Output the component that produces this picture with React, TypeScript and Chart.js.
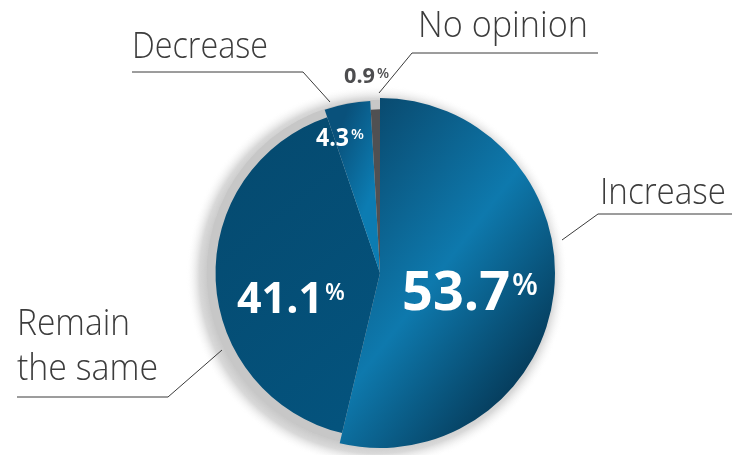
import React, { useEffect, useRef } from "react";
import { Chart, registerables } from "chart.js";

Chart.register(...registerables);

const categories = ["Increase", "Remain the same", "Decrease", "No opinion"];
const values = [53.7, 41.1, 4.3, 0.9];
const valueLabels = ["53.7", "41.1", "4.3", "0.9"];
const categoryLines = [["Increase"], ["Remain", "the same"], ["Decrease"], ["No opinion"]];

// slice radius factors (relative to the largest slice)
const radiusFactors = [1, 0.94, 0.985, 0.935];

// label layout relative to pie center
const leaderLines: number[][][] = [
  [[182, -33], [218, -59], [352, -59]],
  [[-158, 77], [-212, 124], [-363, 124]],
  [[-50, -171], [-77, -201], [-248, -201]],
  [[-1, -180], [32, -220], [218, -220]],
];
const catTextPos: { x: number; y: number; w: number }[][] = [
  [{ x: 220, y: -69, w: 126 }],
  [{ x: -363, y: 62, w: 113 }, { x: -363, y: 107, w: 141 }],
  [{ x: -248, y: -215, w: 136 }],
  [{ x: 38, y: -236, w: 170 }],
];
const pctStyle = [
  { x: 22, y: 37, size: 54, w: 113, pSize: 30, pRise: 15, color: "#ffffff" },
  { x: -143, y: 40, size: 43, w: 95, pSize: 23, pRise: 13, color: "#ffffff" },
  { x: -64, y: -127, size: 25, w: 33, pSize: 15, pRise: 7, color: "#ffffff" },
  { x: -36, y: -190, size: 22, w: 31, pSize: 14, pRise: 5, color: "#4d4d4f" },
];

function center(chart: any) {
  const a = chart.chartArea;
  return { cx: (a.left + a.right) / 2, cy: (a.top + a.bottom) / 2, R: Math.min(a.right - a.left, a.bottom - a.top) / 2 };
}

function sliceColor(context: any) {
  const chart = context.chart;
  const i = context.dataIndex;
  const flat = ["#0b6a9c", "#064e74", "#0a6ea3", "#505052"];
  if (!chart.chartArea) return flat[i];
  const { cx, cy } = center(chart);
  const c = chart.ctx as CanvasRenderingContext2D;
  if (i === 0) {
    const g = c.createLinearGradient(cx - 85, cy - 65, cx + 164, cy + 126);
    g.addColorStop(0, "#094a6f");
    g.addColorStop(0.49, "#0e79ad");
    g.addColorStop(1, "#042f4a");
    return g;
  }
  if (i === 1) {
    const g = c.createLinearGradient(cx - 165, cy - 80, cx, cy + 120);
    g.addColorStop(0, "#054b71");
    g.addColorStop(1, "#04537d");
    return g;
  }
  if (i === 2) {
    const g = c.createLinearGradient(cx - 58, cy - 100, cx - 8, cy - 80);
    g.addColorStop(0, "#09517b");
    g.addColorStop(1, "#0c7cb2");
    return g;
  }
  return "#505052";
}

const decorPlugin = {
  id: "decor",
  afterDatasetsUpdate(chart: any) {
    const meta = chart.getDatasetMeta(0);
    const R = Math.max(...meta.data.map((a: any) => a.outerRadius));
    meta.data.forEach((arc: any, i: number) => {
      arc.outerRadius = R * radiusFactors[i];
    });
  },
  beforeDatasetsDraw(chart: any) {
    const c = chart.ctx as CanvasRenderingContext2D;
    const { cx, cy, R } = center(chart);
    c.save();
    const halo = c.createRadialGradient(cx - 3, cy + 3, R * 0.9, cx - 3, cy + 3, R + 16);
    halo.addColorStop(0, "rgba(140,140,140,0.7)");
    halo.addColorStop(0.6, "rgba(170,170,170,0.45)");
    halo.addColorStop(1, "rgba(255,255,255,0)");
    c.fillStyle = halo;
    c.beginPath();
    c.arc(cx - 3, cy + 3, R + 16, 0, Math.PI * 2);
    c.fill();
    c.fillStyle = "#c7c7c7";
    c.beginPath();
    c.arc(cx, cy, R * 0.99, 0, Math.PI * 2);
    c.fill();
    c.restore();
  },
  afterDatasetsDraw(chart: any) {
    const c = chart.ctx as CanvasRenderingContext2D;
    const { cx, cy } = center(chart);
    c.save();
    // leader lines
    c.strokeStyle = "#3a3a3a";
    c.lineWidth = 1;
    leaderLines.forEach((pts) => {
      c.beginPath();
      pts.forEach(([x, y], k) => (k === 0 ? c.moveTo(cx + x, cy + y) : c.lineTo(cx + x, cy + y)));
      c.stroke();
    });
    // category labels
    c.fillStyle = "#3c3c3c";
    c.textBaseline = "alphabetic";
    c.textAlign = "left";
    c.font = "300 36px 'Open Sans'";
    categoryLines.forEach((lines, i) => {
      lines.forEach((t, k) => {
        const p = catTextPos[i][k];
        c.fillText(t, cx + p.x, cy + p.y, p.w);
      });
    });
    // percentages
    valueLabels.forEach((t, i) => {
      const s = pctStyle[i];
      c.fillStyle = s.color;
      c.font = `bold ${s.size}px 'Open Sans'`;
      const w = Math.min(c.measureText(t).width, s.w);
      c.fillText(t, cx + s.x, cy + s.y, s.w);
      c.font = `600 ${s.pSize}px 'Open Sans'`;
      c.fillText("%", cx + s.x + w + 2, cy + s.y - s.pRise);
    });
    c.restore();
  },
};

export default function App() {
  const ref = useRef<HTMLCanvasElement>(null);
  useEffect(() => {
    document.body.style.margin = "0";
    const chart = new Chart(ref.current!, {
      type: "pie",
      data: {
        labels: categories,
        datasets: [
          {
            data: values,
            backgroundColor: sliceColor as any,
            borderWidth: 0,
          },
        ],
      },
      options: {
        responsive: false,
        animation: false,
        devicePixelRatio: 1,
        events: [],
        rotation: 0,
        layout: { padding: { left: 205, right: 185, top: 97, bottom: 6 } },
        plugins: { legend: { display: false }, tooltip: { enabled: false } },
      },
      plugins: [decorPlugin],
    });
    return () => chart.destroy();
  }, []);
  return (
    <div style={{ width: 740, height: 455, background: "#ffffff" }}>
      <canvas ref={ref} width={740} height={455} style={{ display: "block" }} />
    </div>
  );
}
